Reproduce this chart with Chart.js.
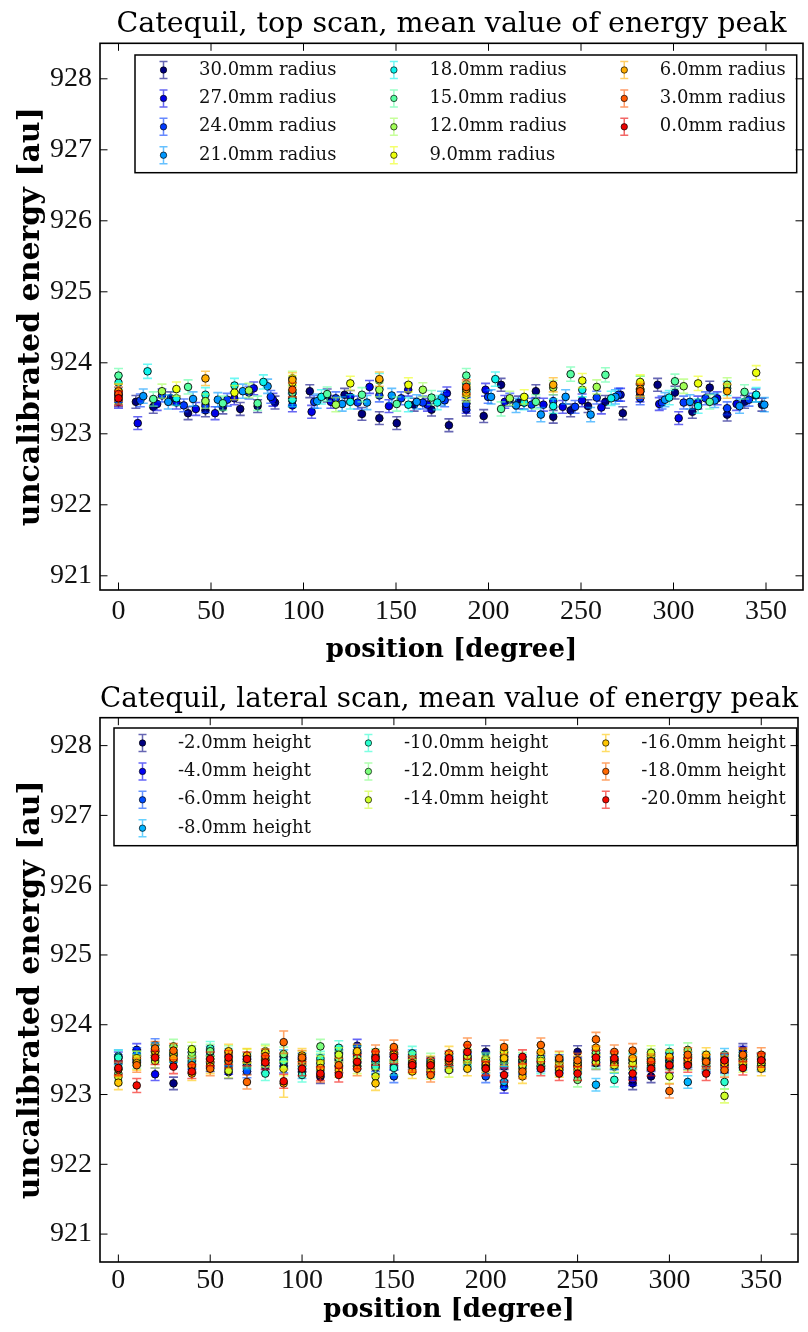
<!DOCTYPE html>
<html>
<head>
<meta charset="utf-8">
<title>Catequil energy peak scans</title>
<script src="https://cdn.jsdelivr.net/npm/chart.js@4.4.1/dist/chart.umd.min.js"></script>
<style>
  html, body { margin: 0; padding: 0; background: #fff; }
  #wrap { position: relative; width: 808px; height: 1332px; }
  canvas { position: absolute; left: 0; }
  #topScan { top: 0; }
  #lateralScan { top: 666px; }
</style>
</head>
<body>
<div id="wrap">
  <canvas id="topScan" width="808" height="666"></canvas>
  <canvas id="lateralScan" width="808" height="666"></canvas>
</div>
<script>
// ---- top scan: one series per radius, positions in degrees ----
const topLabels = ['30.0mm radius', '27.0mm radius', '24.0mm radius', '21.0mm radius',
  '18.0mm radius', '15.0mm radius', '12.0mm radius', '9.0mm radius',
  '6.0mm radius', '3.0mm radius', '0.0mm radius'];

const top30Pos = [0, 9.4, 18.8, 28.2, 37.6, 47, 56.4, 65.8, 75.2, 84.6, 94, 103.4, 112.8, 122.2, 131.6, 141, 150.4, 159.8, 169.2, 178.6, 188, 197.4, 206.8, 216.2, 225.6, 235, 244.4, 253.8, 263.2, 272.6, 282, 291.4, 300.8, 310.2, 319.6, 329, 338.4, 347.8];
const top30Val = [923.47, 923.45, 923.38, 923.5, 923.29, 923.33, 923.37, 923.35, 923.39, 923.44, 923.47, 923.6, 923.54, 923.55, 923.28, 923.22, 923.15, 923.41, 923.34, 923.12, 923.34, 923.25, 923.69, 923.44, 923.6, 923.24, 923.33, 923.39, 923.45, 923.29, 923.6, 923.69, 923.58, 923.31, 923.65, 923.27, 923.45, 923.41];

const top27Pos = [0, 10.4, 20.9, 31.3, 41.8, 52.2, 62.6, 73.1, 83.5, 94, 104.4, 114.8, 125.3, 135.7, 146.2, 156.6, 167, 177.5, 187.9, 198.4, 208.8, 219.2, 229.7, 240.1, 250.6, 261, 271.4, 281.9, 292.3, 302.8, 313.2, 323.6, 334.1, 344.5];
const top27Val = [923.45, 923.15, 923.42, 923.44, 923.35, 923.29, 923.5, 923.64, 923.48, 923.4, 923.31, 923.45, 923.52, 923.66, 923.39, 923.62, 923.41, 923.57, 923.38, 923.62, 923.45, 923.44, 923.41, 923.38, 923.47, 923.37, 923.55, 923.54, 923.42, 923.22, 923.44, 923.5, 923.42, 923.54];

const top24Pos = [0, 11.8, 23.5, 35.3, 47, 58.8, 70.5, 82.3, 94, 105.8, 117.5, 129.3, 141, 152.8, 164.5, 176.3, 188, 199.8, 211.5, 223.3, 235, 246.8, 258.5, 270.3, 282, 293.8, 305.5, 317.3, 329, 340.8];
const top24Val = [923.5, 923.47, 923.54, 923.4, 923.39, 923.48, 923.58, 923.52, 923.48, 923.45, 923.5, 923.44, 923.54, 923.5, 923.44, 923.47, 923.42, 923.52, 923.48, 923.41, 923.46, 923.38, 923.51, 923.55, 923.5, 923.44, 923.44, 923.5, 923.36, 923.48];

const top21Pos = [0, 13.4, 26.9, 40.3, 53.7, 67.2, 80.6, 94, 107.4, 120.9, 134.3, 147.7, 161.2, 174.6, 188, 201.4, 214.9, 228.3, 241.7, 255.2, 268.6, 282, 295.4, 308.9, 322.3, 335.7, 349.1];
const top21Val = [923.55, 923.53, 923.45, 923.49, 923.48, 923.6, 923.67, 923.51, 923.46, 923.42, 923.44, 923.54, 923.45, 923.5, 923.62, 923.52, 923.4, 923.27, 923.52, 923.27, 923.52, 923.6, 923.48, 923.45, 923.47, 923.39, 923.41];

const top18Pos = [0, 15.7, 31.3, 47, 62.7, 78.3, 94, 109.7, 125.3, 141, 156.7, 172.3, 188, 203.7, 219.3, 235, 250.7, 266.3, 282, 297.7, 313.3, 329, 344.7];
const top18Val = [923.72, 923.88, 923.5, 923.55, 923.68, 923.73, 923.48, 923.52, 923.45, 923.75, 923.41, 923.44, 923.7, 923.77, 923.44, 923.39, 923.62, 923.5, 923.71, 923.51, 923.39, 923.64, 923.55];

const top15Pos = [0, 18.8, 37.6, 56.4, 75.2, 94, 112.8, 131.6, 150.4, 169.2, 188, 206.8, 225.6, 244.4, 263.2, 282, 300.8, 319.6, 338.4];
const top15Val = [923.82, 923.49, 923.66, 923.43, 923.43, 923.58, 923.56, 923.55, 923.42, 923.51, 923.82, 923.35, 923.45, 923.84, 923.83, 923.62, 923.74, 923.45, 923.59];

const top12Pos = [0, 23.5, 47, 70.5, 94, 117.5, 141, 164.5, 188, 211.5, 235, 258.5, 282, 305.5, 329];
const top12Val = [923.6, 923.6, 923.46, 923.61, 923.78, 923.41, 923.62, 923.62, 923.55, 923.5, 923.65, 923.66, 923.71, 923.67, 923.69];

const top9Pos = [0, 31.3, 62.7, 94, 125.3, 156.7, 188, 219.3, 250.7, 282, 313.3, 344.7];
const top9Val = [923.52, 923.63, 923.58, 923.72, 923.71, 923.69, 923.58, 923.52, 923.75, 923.73, 923.71, 923.86];

const top6Pos = [0, 47, 94, 141, 188, 235, 282, 329];
const top6Val = [923.6, 923.78, 923.76, 923.77, 923.63, 923.69, 923.63, 923.6];

const top3Pos = [0, 94, 188, 282];
const top3Val = [923.56, 923.62, 923.66, 923.6];

const top0Pos = [0];
const top0Val = [923.5];

// one error per radius
const topErr = [0.09, 0.09, 0.09, 0.1, 0.1, 0.1, 0.1, 0.1, 0.1, 0.1, 0.1];

// ---- lateral scan: every height measured at the same angles ----
const lateralLabels = ['-2.0mm height', '-4.0mm height', '-6.0mm height', '-8.0mm height',
  '-10.0mm height', '-12.0mm height', '-14.0mm height', '-16.0mm height',
  '-18.0mm height', '-20.0mm height'];

const lateralPos = [0, 10, 20, 30, 40, 50, 60, 70, 80, 90, 100, 110, 120, 130, 140, 150, 160, 170, 180, 190, 200, 210, 220, 230, 240, 250, 260, 270, 280, 290, 300, 310, 320, 330, 340, 350];

const lat2 = [923.45, 923.55, 923.62, 923.16, 923.4, 923.42, 923.32, 923.38, 923.4, 923.45, 923.42, 923.25, 923.4, 923.5, 923.45, 923.5, 923.52, 923.38, 923.45, 923.55, 923.61, 923.45, 923.4, 923.5, 923.45, 923.61, 923.5, 923.45, 923.16, 923.26, 923.45, 923.48, 923.42, 923.4, 923.64, 923.5];
const lat4 = [923.52, 923.64, 923.29, 923.48, 923.45, 923.47, 923.38, 923.42, 923.45, 923.5, 923.45, 923.35, 923.5, 923.7, 923.38, 923.45, 923.48, 923.42, 923.42, 923.5, 923.52, 923.11, 923.45, 923.47, 923.4, 923.45, 923.45, 923.5, 923.22, 923.42, 923.5, 923.45, 923.45, 923.45, 923.6, 923.45];
const lat6 = [923.48, 923.58, 923.71, 923.5, 923.52, 923.55, 923.45, 923.33, 923.5, 923.4, 923.5, 923.4, 923.55, 923.55, 923.42, 923.26, 923.45, 923.45, 923.5, 923.45, 923.26, 923.4, 923.38, 923.42, 923.48, 923.4, 923.55, 923.4, 923.45, 923.48, 923.4, 923.52, 923.4, 923.42, 923.52, 923.42];
const lat8 = [923.55, 923.5, 923.65, 923.55, 923.47, 923.6, 923.5, 923.45, 923.42, 923.55, 923.32, 923.48, 923.6, 923.45, 923.48, 923.48, 923.55, 923.4, 923.48, 923.48, 923.4, 923.18, 923.48, 923.45, 923.42, 923.42, 923.14, 923.45, 923.49, 923.45, 923.48, 923.18, 923.5, 923.57, 923.48, 923.48];
const lat10 = [923.53, 923.52, 923.6, 923.6, 923.55, 923.66, 923.56, 923.48, 923.3, 923.48, 923.28, 923.52, 923.67, 923.59, 923.4, 923.38, 923.59, 923.35, 923.45, 923.52, 923.48, 923.5, 923.42, 923.4, 923.38, 923.35, 923.48, 923.21, 923.4, 923.5, 923.61, 923.5, 923.45, 923.18, 923.45, 923.45];
const lat12 = [923.3, 923.47, 923.56, 923.69, 923.6, 923.62, 923.6, 923.5, 923.62, 923.58, 923.48, 923.69, 923.52, 923.52, 923.55, 923.55, 923.5, 923.49, 923.5, 923.51, 923.5, 923.55, 923.5, 923.52, 923.45, 923.21, 923.6, 923.48, 923.5, 923.55, 923.52, 923.64, 923.52, 923.5, 923.5, 923.5];
const lat14 = [923.25, 923.52, 923.48, 923.58, 923.65, 923.45, 923.34, 923.55, 923.6, 923.37, 923.52, 923.45, 923.57, 923.4, 923.26, 923.6, 923.4, 923.32, 923.35, 923.55, 923.45, 923.61, 923.42, 923.48, 923.5, 923.4, 923.46, 923.42, 923.45, 923.6, 923.26, 923.45, 923.48, 922.98, 923.42, 923.44];
const lat16 = [923.17, 923.45, 923.62, 923.52, 923.3, 923.4, 923.62, 923.56, 923.5, 923.16, 923.56, 923.38, 923.35, 923.62, 923.16, 923.57, 923.33, 923.45, 923.59, 923.37, 923.42, 923.52, 923.26, 923.61, 923.35, 923.45, 923.67, 923.5, 923.52, 923.45, 923.54, 923.52, 923.57, 923.45, 923.55, 923.37];
const lat18 = [923.36, 923.42, 923.66, 923.63, 923.42, 923.37, 923.48, 923.18, 923.55, 923.75, 923.53, 923.28, 923.42, 923.37, 923.61, 923.68, 923.45, 923.28, 923.48, 923.71, 923.38, 923.68, 923.33, 923.71, 923.52, 923.49, 923.79, 923.61, 923.63, 923.48, 923.05, 923.57, 923.47, 923.35, 923.57, 923.57];
const lat20 = [923.38, 923.13, 923.53, 923.4, 923.33, 923.51, 923.53, 923.51, 923.46, 923.19, 923.37, 923.3, 923.28, 923.47, 923.52, 923.54, 923.42, 923.42, 923.52, 923.61, 923.37, 923.28, 923.54, 923.37, 923.3, 923.3, 923.53, 923.52, 923.3, 923.37, 923.42, 923.42, 923.3, 923.49, 923.38, 923.49];

const lateralErr = [0.09, 0.09, 0.09, 0.09, 0.1, 0.1, 0.1, 0.1, 0.1, 0.1];
// [series index, position, error] for the few points with wider bars
const lateralWideErr = [[7, 90, 0.2], [8, 90, 0.16]];

const yTicks = [921, 922, 923, 924, 925, 926, 927, 928];

const SERIF = "'DejaVu Serif', serif";
const TICK_FONT = { family: "'Liberation Serif', serif", size: 28 };

// matplotlib "jet" colormap
const jetSeg = {
  r: [[0, 0], [0.35, 0], [0.66, 1], [0.89, 1], [1, 0.5]],
  g: [[0, 0], [0.125, 0], [0.375, 1], [0.64, 1], [0.91, 0], [1, 0]],
  b: [[0, 0.5], [0.11, 1], [0.34, 1], [0.65, 0], [1, 0]]
};
function segValue(seg, t) {
  for (let i = 1; i < seg.length; i++) {
    if (t <= seg[i][0]) {
      const [x0, y0] = seg[i - 1], [x1, y1] = seg[i];
      return y0 + (y1 - y0) * (t - x0) / (x1 - x0);
    }
  }
  return seg[seg.length - 1][1];
}
function jet(t, alpha = 1) {
  const [r, g, b] = ['r', 'g', 'b'].map(k => Math.round(255 * segValue(jetSeg[k], t)));
  return `rgba(${r}, ${g}, ${b}, ${alpha})`;
}

function buildDatasets(labels, series, errs, wide = []) {
  const n = labels.length;
  return labels.map((label, i) => {
    const [xs, ys] = series[i];
    return {
      label,
      data: xs.map((x, k) => {
        const w = wide.find(e => e[0] === i && e[1] === x);
        return { x, y: ys[k], err: w ? w[2] : errs[i] };
      }),
      backgroundColor: jet(i / n),
      borderColor: 'rgba(0, 0, 0, 0.85)',
      errColor: jet(i / n, 0.6),
      pointRadius: 3.8,
      pointBorderWidth: 1,
      order: n - i   // later series end up on top
    };
  });
}

// vertical error bars with caps, drawn just under each series' markers
const errorBars = {
  id: 'errorBars',
  beforeDatasetDraw(chart, args) {
    const ds = chart.data.datasets[args.index];
    const y = chart.scales.y;
    const ctx = chart.ctx;
    const cap = 4.5;
    ctx.save();
    ctx.strokeStyle = ds.errColor;
    ctx.lineWidth = 1.6;
    args.meta.data.forEach((pt, i) => {
      const d = ds.data[i];
      const hi = y.getPixelForValue(d.y + d.err);
      const lo = y.getPixelForValue(d.y - d.err);
      ctx.beginPath();
      ctx.moveTo(pt.x, hi); ctx.lineTo(pt.x, lo);
      ctx.moveTo(pt.x - cap, hi); ctx.lineTo(pt.x + cap, hi);
      ctx.moveTo(pt.x - cap, lo); ctx.lineTo(pt.x + cap, lo);
      ctx.stroke();
    });
    ctx.restore();
  }
};

// three-column legend filled column by column
const jetLegend = {
  id: 'jetLegend',
  afterDraw(chart, args, opts) {
    const ctx = chart.ctx;
    const sets = chart.data.datasets;
    const ncol = 3;
    const base = Math.floor(sets.length / ncol), extra = sets.length % ncol;
    const columns = [];
    let k = 0;
    for (let c = 0; c < ncol; c++) {
      const cnt = base + (c < extra ? 1 : 0);
      columns.push(sets.slice(k, k + cnt));
      k += cnt;
    }
    const nrow = columns[0].length;
    ctx.save();
    ctx.font = `18px ${SERIF}`;
    const widths = columns.map(col => Math.max(...col.map(d => ctx.measureText(d.label).width)));
    const textX = [];
    let tx = opts.left + 64;
    widths.forEach(w => { textX.push(tx); tx += w + 93; });
    const right = textX[ncol - 1] + widths[ncol - 1] + 11;
    const rowGap = 28.4;
    const top = opts.top;
    const bottom = top + 15 + (nrow - 1) * rowGap + 17.5;

    ctx.fillStyle = '#fff';
    ctx.fillRect(opts.left, top, right - opts.left, bottom - top);
    ctx.strokeStyle = '#000';
    ctx.lineWidth = 1.5;
    ctx.strokeRect(opts.left, top, right - opts.left, bottom - top);

    columns.forEach((col, c) => col.forEach((d, r) => {
      const yy = top + 15 + r * rowGap;
      const mx = textX[c] - 35.5;
      ctx.strokeStyle = d.errColor;
      ctx.lineWidth = 1.5;
      ctx.beginPath();
      ctx.moveTo(mx, yy - 8.5); ctx.lineTo(mx, yy + 8.5);
      ctx.moveTo(mx - 4, yy - 8.5); ctx.lineTo(mx + 4, yy - 8.5);
      ctx.moveTo(mx - 4, yy + 8.5); ctx.lineTo(mx + 4, yy + 8.5);
      ctx.stroke();
      ctx.beginPath();
      ctx.arc(mx, yy, 3.2, 0, 2 * Math.PI);
      ctx.fillStyle = d.backgroundColor;
      ctx.fill();
      ctx.strokeStyle = d.borderColor;
      ctx.lineWidth = 0.8;
      ctx.stroke();
      ctx.fillStyle = '#111';
      ctx.textAlign = 'left';
      ctx.textBaseline = 'middle';
      ctx.fillText(d.label, textX[c], yy);
    }));
    ctx.restore();
  }
};

// axes box with inward ticks on all four sides
const frame = {
  id: 'frame',
  afterDraw(chart) {
    const { ctx, chartArea: a, scales: { x, y } } = chart;
    const len = 7.5;
    ctx.save();
    ctx.strokeStyle = '#000';
    ctx.lineWidth = 1;
    ctx.beginPath();
    x.ticks.forEach(t => {
      const px = x.getPixelForValue(t.value);
      ctx.moveTo(px, a.bottom); ctx.lineTo(px, a.bottom - len);
      ctx.moveTo(px, a.top); ctx.lineTo(px, a.top + len);
    });
    y.ticks.forEach(t => {
      const py = y.getPixelForValue(t.value);
      ctx.moveTo(a.left, py); ctx.lineTo(a.left + len, py);
      ctx.moveTo(a.right, py); ctx.lineTo(a.right - len, py);
    });
    ctx.stroke();
    ctx.lineWidth = 1.6;
    ctx.strokeRect(a.left, a.top, a.right - a.left, a.bottom - a.top);
    ctx.restore();
  }
};

function scanChart(canvas, cfg) {
  return new Chart(canvas, {
    type: 'scatter',
    data: { datasets: cfg.datasets },
    options: {
      responsive: false,
      devicePixelRatio: 1,
      animation: false,
      events: [],
      layout: { padding: { top: 0, left: 0, bottom: 0, right: cfg.padRight } },
      plugins: {
        legend: { display: false },
        tooltip: { enabled: false },
        title: {
          display: true,
          text: cfg.title,
          fullSize: false,
          color: '#000',
          font: { family: SERIF, size: 28.5, weight: 'normal' },
          padding: cfg.titlePad
        },
        jetLegend: { left: cfg.legendLeft, top: cfg.legendTop }
      },
      scales: {
        x: {
          type: 'linear',
          min: -10,
          max: 370,
          ticks: { stepSize: 50, includeBounds: false, padding: cfg.xTickPad, font: TICK_FONT, color: '#111', maxRotation: 0 },
          grid: { display: false, drawTicks: false },
          border: { display: false },
          title: {
            display: true,
            text: 'position [degree]',
            color: '#000',
            font: { family: SERIF, size: 26, weight: 'bold' },
            padding: { top: 0, bottom: cfg.xTitlePad }
          },
          afterFit(scale) { scale.height = cfg.xHeight; }
        },
        y: {
          type: 'linear',
          min: cfg.yMin,
          max: cfg.yMax,
          afterBuildTicks(scale) { scale.ticks = yTicks.map(v => ({ value: v })); },
          ticks: { padding: 8, font: TICK_FONT, color: '#111' },
          grid: { display: false, drawTicks: false },
          border: { display: false },
          title: {
            display: true,
            text: 'uncalibrated energy [au]',
            color: '#000',
            font: { family: SERIF, size: 30, weight: 'bold' },
            padding: { top: 13, bottom: 0 }
          },
          afterFit(scale) { scale.width = 100; }
        }
      }
    },
    plugins: [errorBars, jetLegend, frame]
  });
}

const topSeries = [
  [top30Pos, top30Val], [top27Pos, top27Val], [top24Pos, top24Val], [top21Pos, top21Val],
  [top18Pos, top18Val], [top15Pos, top15Val], [top12Pos, top12Val], [top9Pos, top9Val],
  [top6Pos, top6Val], [top3Pos, top3Val], [top0Pos, top0Val]
];
const lateralSeries = [lat2, lat4, lat6, lat8, lat10, lat12, lat14, lat16, lat18, lat20]
  .map(vals => [lateralPos, vals]);

scanChart(document.getElementById('topScan'), {
  title: 'Catequil, top scan, mean value of energy peak',
  datasets: buildDatasets(topLabels, topSeries, topErr),
  titlePad: { top: 7, bottom: 2.1 },
  padRight: 2,
  yMin: 920.8,
  yMax: 928.5,
  xHeight: 76,
  xTickPad: 5,
  xTitlePad: 0,
  legendLeft: 135,
  legendTop: 55
});

scanChart(document.getElementById('lateralScan'), {
  title: 'Catequil, lateral scan, mean value of energy peak',
  datasets: buildDatasets(lateralLabels, lateralSeries, lateralErr, lateralWideErr),
  titlePad: { top: 16, bottom: 1.5 },
  padRight: 10,
  yMin: 920.6,
  yMax: 928.4,
  xHeight: 70,
  xTickPad: 2,
  xTitlePad: 6.4,
  legendLeft: 114,
  legendTop: 62
});
</script>
</body>
</html>
